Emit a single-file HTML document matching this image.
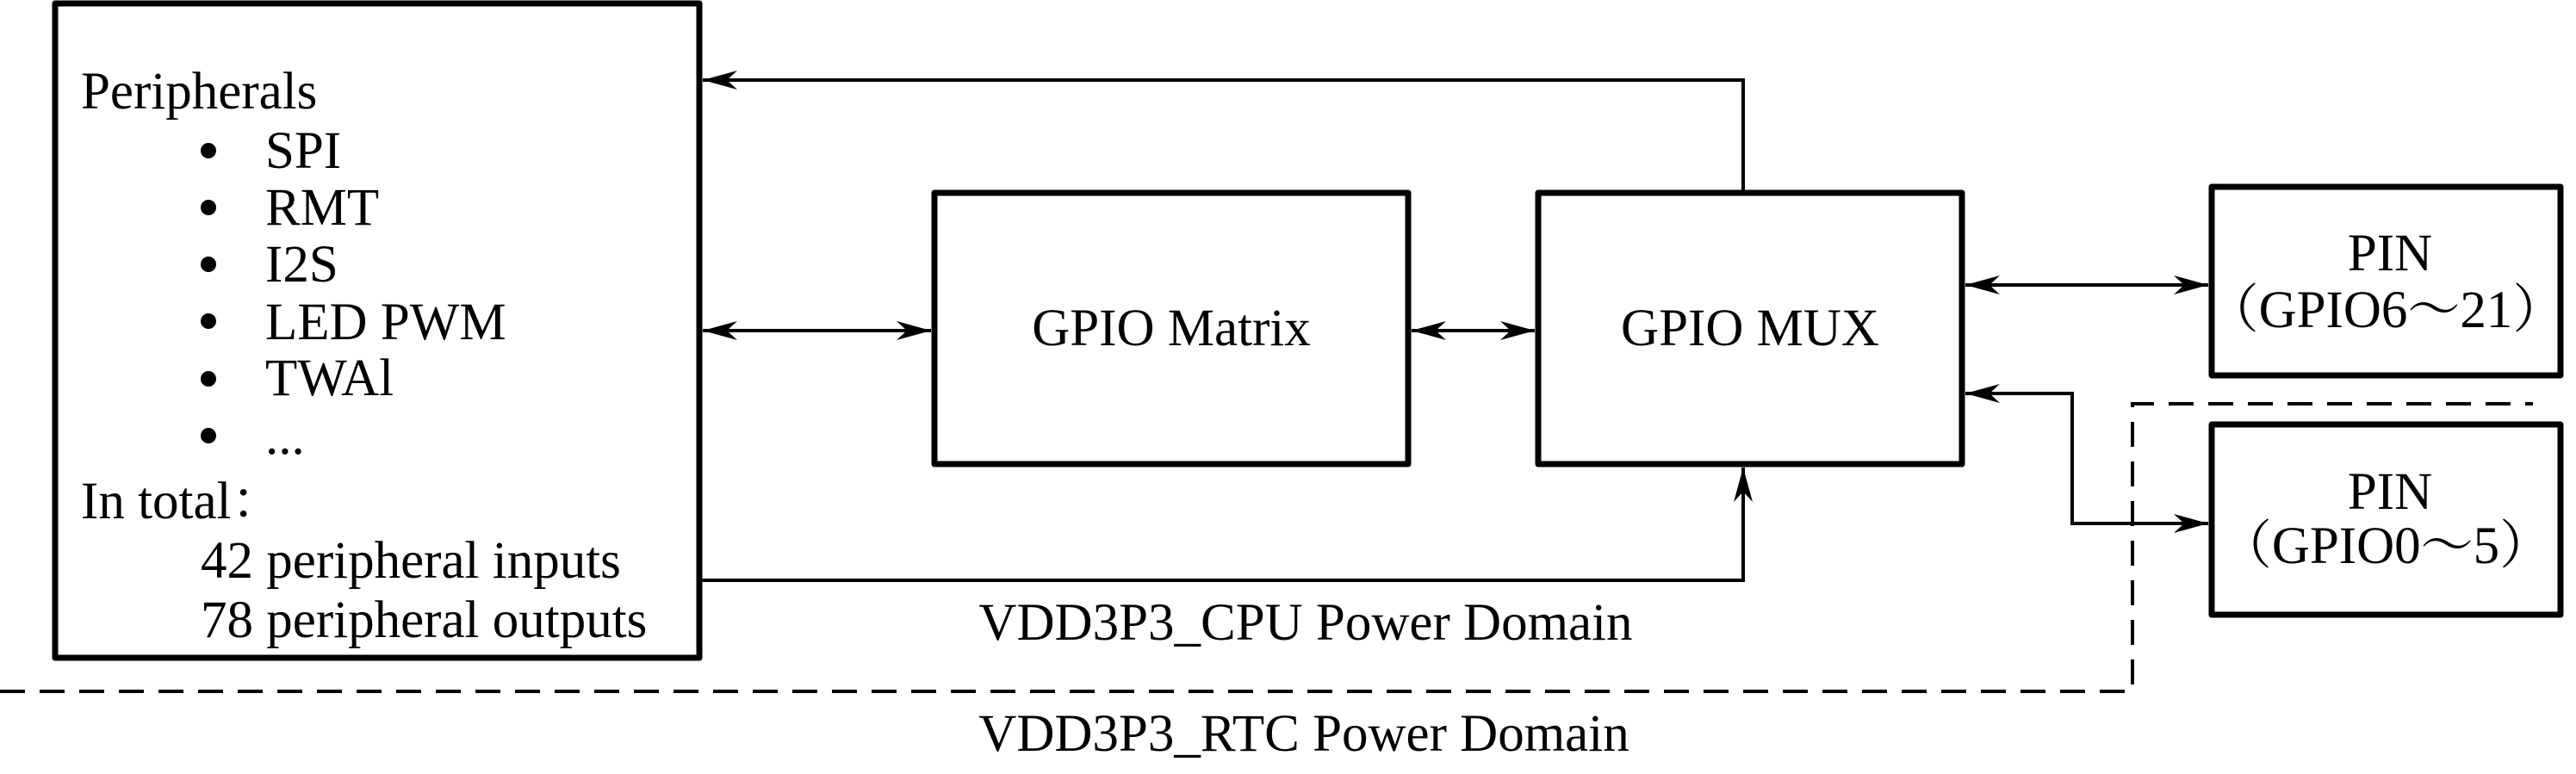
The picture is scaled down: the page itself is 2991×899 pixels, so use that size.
<!DOCTYPE html>
<html><head><meta charset="utf-8"><style>
html,body{margin:0;padding:0;background:#fff;}
svg{display:block;}
text{font-family:"Liberation Serif","Noto Serif CJK SC",serif;fill:#000;}
</style></head><body>
<svg width="2991" height="899" viewBox="0 0 2991 899" xmlns="http://www.w3.org/2000/svg">
<defs>
<marker id="b" viewBox="0 0 40 22" refX="40" refY="11" markerWidth="40" markerHeight="22" markerUnits="userSpaceOnUse" orient="auto-start-reverse">
<path d="M0,0 L40,11 L0,22 L12,11 Z" fill="#000"/>
</marker>
</defs>
<g fill="none" stroke="#000" stroke-width="7" stroke-linejoin="round">
<rect x="64" y="4" width="748" height="760"/>
<rect x="1085" y="224" width="550" height="315"/>
<rect x="1786" y="224" width="492" height="315"/>
<rect x="2568" y="217" width="405" height="219"/>
<rect x="2568" y="493" width="405" height="221"/>
</g>
<g fill="none" stroke="#000" stroke-width="4">
<path d="M2024,224 L2024,93 L816,93" marker-end="url(#b)"/>
<path d="M816,384 L1081,384" marker-start="url(#b)" marker-end="url(#b)"/>
<path d="M1639,384 L1782,384" marker-start="url(#b)" marker-end="url(#b)"/>
<path d="M812,674 L2024,674 L2024,543" marker-end="url(#b)"/>
<path d="M2282,331 L2564,331" marker-start="url(#b)" marker-end="url(#b)"/>
<path d="M2564,608 L2406,608 L2406,457 L2282,457" marker-start="url(#b)" marker-end="url(#b)"/>
</g>
<g fill="none" stroke="#000" stroke-width="4" stroke-dasharray="29,17">
<path d="M0,803 L2476,803 L2476,469 L2941,469"/>
</g>
<g font-size="61">
<text x="94" y="126">Peripherals</text>
<text x="308" y="195">SPI</text>
<text x="308" y="261">RMT</text>
<text x="308" y="327">I2S</text>
<text x="308" y="394">LED PWM</text>
<text x="308" y="459">TWAl</text>
<text x="308" y="527">...</text>
<text x="94" y="602">In total：</text>
<text x="233" y="671">42 peripheral inputs</text>
<text x="233" y="740">78 peripheral outputs</text>
<text x="1360" y="401" text-anchor="middle">GPIO Matrix</text>
<text x="2032" y="401" text-anchor="middle">GPIO MUX</text>
<text x="2775" y="314" text-anchor="middle">PIN</text>
<text x="2770" y="380" text-anchor="middle">（GPIO6～21）</text>
<text x="2775" y="591" text-anchor="middle">PIN</text>
<text x="2770" y="654" text-anchor="middle">（GPIO0～5）</text>
<text x="1516" y="743" text-anchor="middle">VDD3P3_CPU Power Domain</text>
<text x="1514" y="872" text-anchor="middle">VDD3P3_RTC Power Domain</text>
</g>
<g fill="#000">
<circle cx="242" cy="175" r="9"/>
<circle cx="242" cy="241" r="9"/>
<circle cx="242" cy="307" r="9"/>
<circle cx="242" cy="373" r="9"/>
<circle cx="242" cy="440" r="9"/>
<circle cx="242" cy="506" r="9"/>
</g>
</svg>
</body></html>
